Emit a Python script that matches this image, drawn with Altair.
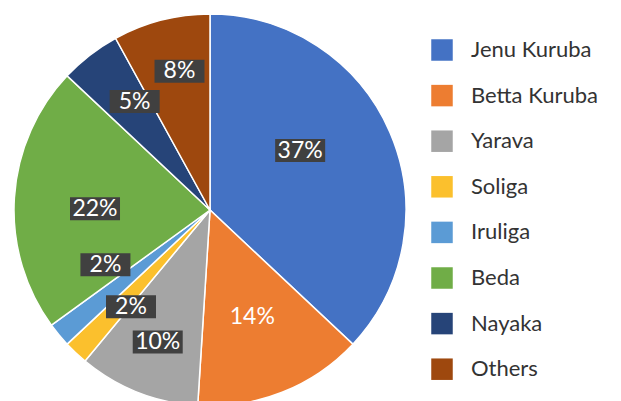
import altair as alt
import pandas as pd

categories = ["Jenu Kuruba", "Betta Kuruba", "Yarava", "Soliga", "Iruliga", "Beda", "Nayaka", "Others"]
shares = [37, 14, 10, 2, 2, 22, 5, 8]
colors = ["#4472C4", "#ED7D31", "#A5A5A5", "#FBC02D", "#5B9BD5", "#70AD47", "#264478", "#9E480E"]

# label placement (distance from centre in px, angular nudge in degrees), Excel "best fit" style
label_radius = [108, 115, 142, 125, 118, 115, 132, 142]
label_nudge = [-10, 0, 0, -4, 12, -3, 3, 2]
label_boxed = [True, False, True, True, True, True, True, True]

df = pd.DataFrame({
    "category": categories,
    "share": shares,
    "order": list(range(len(categories))),
    "lr": label_radius,
    "ln": label_nudge,
    "boxed": label_boxed,
})

W = 621
H = 401
CX = 210
CY = 210
R = 196

base = alt.Chart(df)

pie = base.mark_arc(outerRadius=R, stroke="white", strokeWidth=1.5).encode(
    theta=alt.Theta("share:Q", stack=True),
    order=alt.Order("order:Q"),
    x=alt.value(CX),
    y=alt.value(CY),
    color=alt.Color(
        "category:N",
        scale=alt.Scale(domain=categories, range=colors),
        sort=categories,
        legend=alt.Legend(
            title=None,
            orient="none",
            legendX=431,
            legendY=39,
            symbolType="square",
            symbolSize=462,
            symbolStrokeWidth=0,
            labelFontSize=22,
            labelFont="Lato",
            labelColor="#333333",
            labelOffset=18,
            rowPadding=23.6,
            padding=0,
        ),
    ),
)

lab = base.transform_window(
    cum="sum(share)", sort=[alt.SortField("order")], frame=[None, 0]
).transform_joinaggregate(
    total="sum(share)"
).transform_calculate(
    mid="(datum.cum - datum.share/2)/datum.total*2*PI + datum.ln*PI/180",
    px=f"{CX} + datum.lr*sin(datum.mid)",
    py=f"{CY} - datum.lr*cos(datum.mid)",
    txt="format(datum.share/datum.total, '.0%')",
)

boxes = lab.transform_filter("datum.boxed").mark_point(
    shape="M-1,-0.46H1V0.46H-1Z", size=2500, filled=True, color="#404040", opacity=1, strokeWidth=0
).encode(
    x=alt.X("px:Q", scale=None),
    y=alt.Y("py:Q", scale=None),
)

texts = lab.mark_text(
    font="Lato", fontSize=23, color="white", align="center", baseline="middle"
).encode(
    x=alt.X("px:Q", scale=None),
    y=alt.Y("py:Q", scale=None),
    text="txt:N",
)

chart = alt.layer(pie, boxes, texts).properties(
    width=W, height=H, padding=0
).configure_view(stroke=None).properties(
    autosize=alt.AutoSizeParams(type="none")
)

chart.save("out.html", embed_options={"renderer": "svg", "actions": False})
